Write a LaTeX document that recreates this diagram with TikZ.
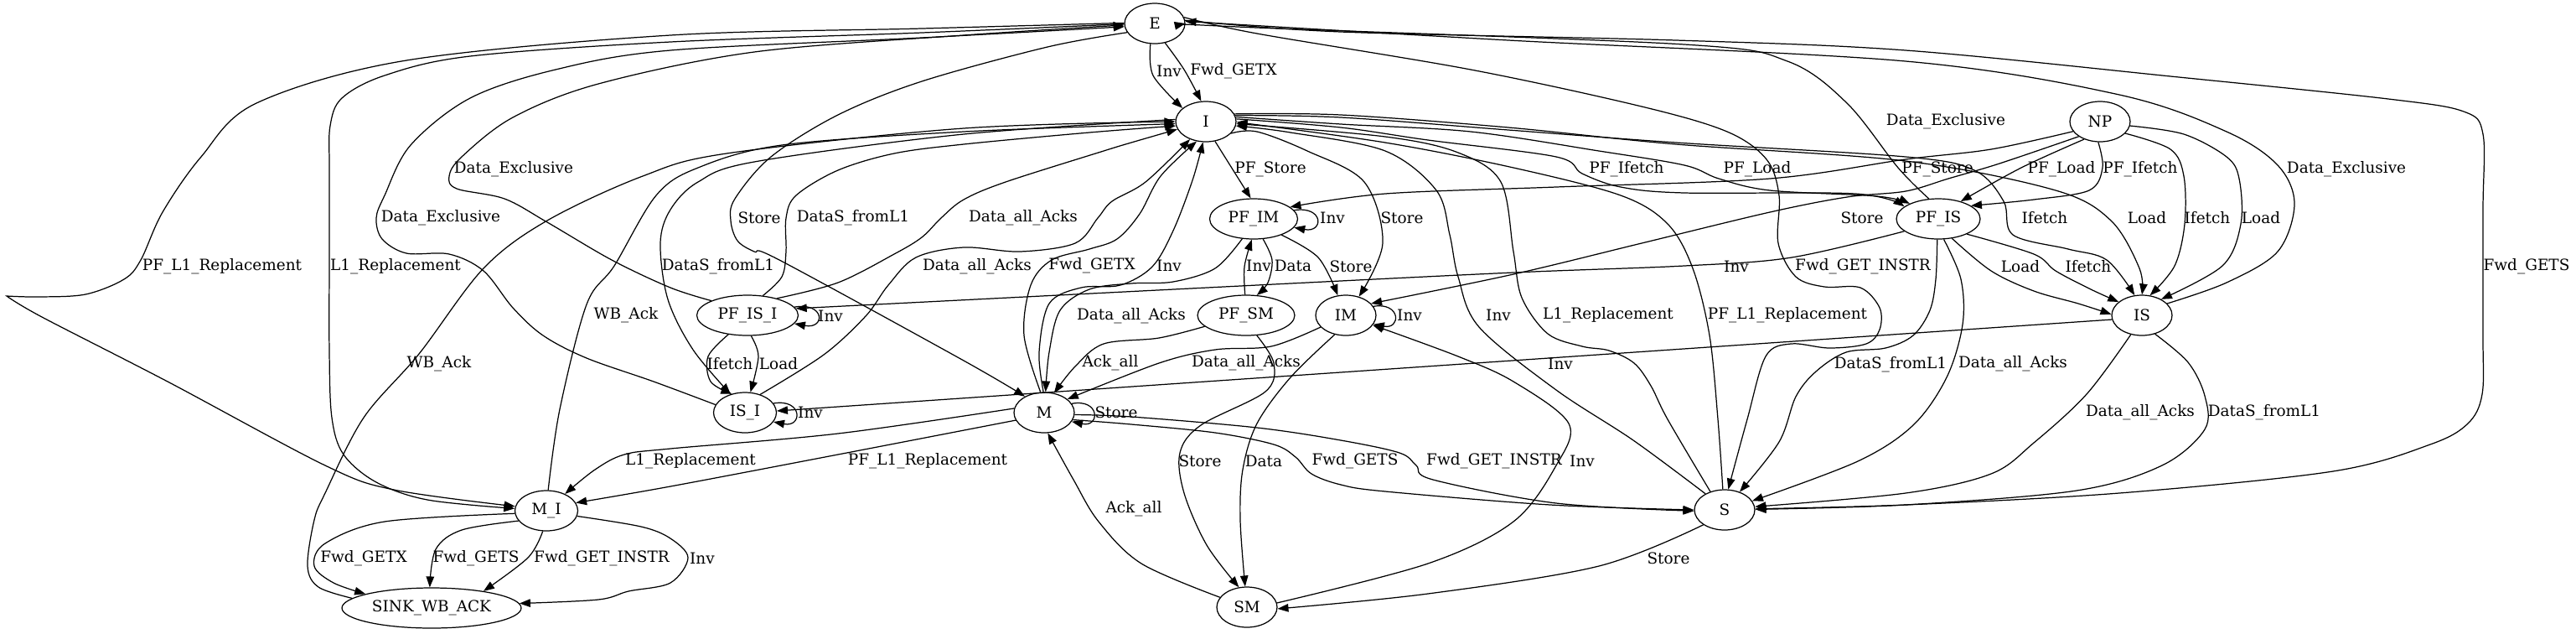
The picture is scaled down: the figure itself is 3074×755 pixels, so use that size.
\documentclass[tikz,border=0pt]{standalone}
\usepackage{fontspec}
\setmainfont{DejaVu Serif}
\usetikzlibrary{arrows.meta,shapes.geometric}
\newcommand\lblfont{\fontsize{10.5}{12}\selectfont}
\begin{document}
\begin{tikzpicture}[x=0.02cm,y=-0.02cm,
  st/.style={draw, ellipse, line width=0.7pt, minimum width=1.44cm, minimum height=0.96cm, inner sep=0pt, font=\lblfont},
  ar/.style={line width=0.7pt, -{Triangle[length=0.26cm,width=0.19cm]}},
  lab/.style={inner sep=0pt, font=\lblfont},
  sm/.style={smooth, tension=0.55}]
\useasboundingbox (0,0) rectangle (3074,755);
% nodes
\node[st] (E) at (1378,28) {E};
\node[st] (I) at (1439,145) {I};
\node[st] (NP) at (2506,145) {NP};
\node[st, minimum width=2.1cm] (PFIM) at (1496,261) {PF\_IM};
\node[st, minimum width=2.0cm] (PFIS) at (2313,261) {PF\_IS};
\node[st, minimum width=2.42cm] (PFISI) at (892,376) {PF\_IS\_I};
\node[st, minimum width=2.32cm] (PFSM) at (1487,376) {PF\_SM};
\node[st] (IM) at (1606,376) {IM};
\node[st] (IS) at (2556,376) {IS};
\node[st, minimum width=1.5cm] (ISI) at (889,492) {IS\_I};
\node[st] (M) at (1246,492) {M};
\node[st, minimum width=1.5cm] (MI) at (652,609) {M\_I};
\node[st] (S) at (2058,608) {S};
\node[st, minimum width=4.28cm] (SINK) at (515,725) {SINK\_WB\_ACK};
\node[st] (SM) at (1488,724) {SM};
% E -> I
\draw[ar] plot[sm] coordinates {(E.258) (1376,90) (I.150)};
\draw[ar] plot[sm] coordinates {(E.-62) (1413,83) (I.103)};
% E -> M_I
\draw[ar] plot[sm] coordinates {(E.179) (1100,34) (800,42) (485,72) (306,123) (240,187) (194,253) (168,310) (148,333) (102,351) (46,354) (8,353)} -- plot[sm] coordinates {(8,353) (50,378) (200,455) (388,555) (470,584) (MI.172)};
\draw[ar] plot[sm] coordinates {(E.181) (1100,39) (800,50) (561,67) (459,90) (408,117) (394,150) (393,200) (393,300) (393,420) (396,498) (410,542) (449,575) (510,596) (MI.176)};
% E -> M
\draw[ar] plot[sm] coordinates {(E.198) (1250,56) (1100,97) (1000,137) (920,187) (877,237) (872,263) (880,287) (900,300) (930,310) (1150,430) (M.140)};
% -> E Data_Exclusive
\draw[ar] plot[sm] coordinates {(PFISI.158) (800,343) (730,310) (653,265) (602,237) (545,225) (536,210) (551,187) (612,140) (714,100) (900,62) (1150,42) (E.183)};
\draw[ar] plot[sm] coordinates {(ISI.165) (780,455) (700,427) (648,400) (612,367) (577,323) (536,303) (485,302) (456,285) (449,260) (459,233) (490,173) (561,117) (663,83) (800,60) (1100,45) (E.186)};
\draw[ar] plot[sm] coordinates {(IS.25) (2657,337) (2718,300) (2738,243) (2718,197) (2657,157) (2529,113) (2274,73) (1800,48) (E.4)};
\draw[ar] plot[sm] coordinates {(PFIS.115) (2265,200) (2204,123) (2133,73) (2010,53) (1500,33) (E.0)};
% into I from left
\draw[ar] plot[sm] coordinates {(I.176) (1150,160) (900,193) (833,217) (800,250) (788,290) (797,357) (827,417) (ISI.128)};
\draw[ar] plot[sm] coordinates {(ISI.50) (983,423) (1033,377) (1060,340) (1093,307) (1150,295) (1217,300) (1283,290) (1310,260) (1327,240) (1367,217) (I.228)};
\draw[ar] plot[sm] coordinates {(PFISI.52) (933,330) (938,300) (938,260) (950,233) (1000,203) (1067,183) (1150,172) (1300,158) (I.188)};
\draw[ar] plot[sm] coordinates {(PFISI.30) (1000,337) (1067,303) (1100,283) (1123,260) (1150,238) (1200,217) (1317,180) (1350,170) (I.195)};
\draw[ar] plot[sm] coordinates {(MI.85) (668,488) (700,363) (733,317) (783,233) (833,200) (933,173) (1150,157) (I.184)};
\draw[ar] plot[sm] coordinates {(SINK.173) (380,700) (367,675) (375,620) (388,588) (434,498) (500,422) (577,320) (653,263) (767,210) (867,183) (1150,153) (I.180)};
% M -> I
\draw[ar] plot[sm] coordinates {(M.100) (1222,400) (1230,340) (1255,310) (1300,297) (1333,285) (1360,255) (1385,210) (I.245)};
\draw[ar] plot[sm] coordinates {(M.92) (1240,420) (1252,362) (1290,343) (1337,340) (1375,318) (1400,275) (1423,215) (I.262)};
% E -> S
\draw[ar] plot[sm] coordinates {(E.6) (1600,38) (2000,48) (2274,60) (2600,92) (2850,118) (2940,133) (2963,160) (2963,250) (2963,400) (2962,470) (2945,505) (2900,530) (2784,562) (2529,588) (2274,602) (S.2)};
\draw[ar] plot[sm] coordinates {(E.12) (1500,40) (1755,83) (1959,127) (2061,157) (2108,190) (2123,233) (2122,290) (2143,330) (2177,342) (2220,343) (2243,367) (2243,393) (2227,410) (2183,415) (2137,410) (2107,425) (2085,500) (S.80)};
% from I to the right
\draw[ar] (I.-65) -- (PFIM.98);
\draw[ar] plot[sm] coordinates {(I.-25) (1500,157) (1560,180) (1628,217) (1650,290) (IM.55)};
\draw[ar] plot[sm] coordinates {(I.5) (1600,152) (1704,167) (1857,187) (1888,207) (1934,223) (2010,230) (2214,231) (PFIS.160)};
\draw[ar] plot[sm] coordinates {(I.9) (1600,148) (1755,157) (1908,180) (2010,197) (2051,213) (2112,227) (2240,234) (PFIS.152)};
\draw[ar] plot[sm] coordinates {(I.12) (1600,140) (1800,155) (2000,170) (2274,187) (2356,203) (2391,240) (2402,280) (2468,297) (2514,310) (IS.110)};
\draw[ar] plot[sm] coordinates {(I.15) (1600,137) (1800,152) (2000,172) (2274,192) (2453,227) (2519,263) (2553,320) (IS.90)};
% S -> I
\draw[ar] plot[sm] coordinates {(S.140) (1949,525) (1857,465) (1765,390) (1740,330) (1730,280) (1714,227) (1653,180) (1540,158) (I.-8)};
\draw[ar] plot[sm] coordinates {(S.128) (1990,500) (1970,460) (1950,433) (1920,418) (1888,413) (1847,398) (1816,355) (1806,300) (1791,217) (1740,182) (1653,163) (I.-4)};
\draw[ar] plot[sm] coordinates {(S.95) (2050,500) (2040,400) (2020,320) (1990,267) (1934,233) (1806,200) (1653,170) (I.-1)};
% NP
\draw[ar] plot[sm] coordinates {(NP.200) (2376,178) (2274,190) (2112,213) (1857,223) (1653,231) (PFIM.18)};
\draw[ar] plot[sm] coordinates {(NP.215) (2386,195) (2325,213) (2274,228) (2204,235) (2112,253) (1959,290) (1806,327) (IM.25)};
\draw[ar] plot[sm] coordinates {(NP.228) (2412,200) (PFIS.38)};
\draw[ar] plot[sm] coordinates {(NP.265) (2509,200) (2493,227) (2427,238) (PFIS.22)};
\draw[ar] plot[sm] coordinates {(NP.-25) (2590,178) (2606,210) (2607,267) (2595,317) (IS.68)};
\draw[ar] plot[sm] coordinates {(NP.-8) (2606,160) (2657,187) (2672,213) (2674,267) (2652,317) (IS.40)};
% PF_IS
\draw[ar] plot[sm] coordinates {(PFIS.-55) (2376,323) (2427,347) (2480,362) (IS.178)};
\draw[ar] plot[sm] coordinates {(PFIS.-28) (2427,303) (2453,323) (2495,345) (IS.150)};
\draw[ar] plot[sm] coordinates {(PFIS.-93) (2310,333) (2303,370) (2283,400) (2250,415) (2203,420) (2167,443) (2143,473) (2123,527) (S.50)};
\draw[ar] plot[sm] coordinates {(PFIS.-75) (2340,333) (2342,387) (2323,450) (2283,507) (2217,550) (S.18)};
\draw[ar] plot[sm] coordinates {(PFIS.200) (2138,307) (2010,317) (1806,325) (1500,340) (PFISI.8)};
% IS
\draw[ar] plot[sm] coordinates {(IS.240) (2490,470) (2427,528) (2376,565) (2274,588) (S.6)};
\draw[ar] plot[sm] coordinates {(IS.-55) (2611,432) (2631,472) (2631,512) (2580,555) (2478,585) (2274,602) (S.1)};
\draw[ar] (IS.188) -- (ISI.3);
% PF_IS_I -> IS_I
\draw[ar] plot[sm] coordinates {(PFISI.225) (845,425) (848,455) (ISI.125)};
\draw[ar] plot[sm] coordinates {(PFISI.-80) (905,425) (ISI.75)};
% self loops
\draw[ar] (PFISI.10) .. controls (985,360) and (985,393) .. (PFISI.-10);
\draw[ar] (ISI.18) .. controls (958,475) and (958,510) .. (ISI.-18);
\draw[ar] (M.18) .. controls (1313,475) and (1313,510) .. (M.-18);
\draw[ar] (PFIM.12) .. controls (1580,245) and (1580,278) .. (PFIM.-12);
\draw[ar] (IM.18) .. controls (1672,360) and (1672,393) .. (IM.-18);
% PF_IM, PF_SM, IM, SM
\draw[ar] plot[sm] coordinates {(PFIM.-65) (1518,310) (1513,337) (PFSM.62)};
\draw[ar] plot[sm] coordinates {(PFSM.93) (1485,318) (PFIM.-95)};
\draw[ar] plot[sm] coordinates {(PFIM.-30) (1573,307) (IM.112)};
\draw[ar] plot[sm] coordinates {(PFIM.-120) (1450,320) (1400,336) (1350,338) (1300,345) (1265,370) (1252,420) (M.86)};
\draw[ar] plot[sm] coordinates {(PFSM.195) (1383,403) (1317,410) (1283,437) (M.63)};
\draw[ar] plot[sm] coordinates {(IM.205) (1517,413) (1450,417) (1383,433) (M.30)};
\draw[ar] plot[sm] coordinates {(PFSM.-62) (1520,433) (1510,467) (1433,507) (1408,540) (1413,588) (1440,650) (SM.112)};
\draw[ar] plot[sm] coordinates {(IM.240) (1540,450) (1500,505) (1483,560) (1480,620) (SM.95)};
\draw[ar] plot[sm] coordinates {(SM.160) (1362,672) (1311,622) (1281,572) (M.-80)};
\draw[ar] plot[sm] coordinates {(SM.8) (1704,672) (1806,622) (1857,555) (1872,505) (1806,455) (1740,425) (IM.-20)};
\draw[ar] plot[sm] coordinates {(S.215) (1908,675) (1704,708) (SM.-3)};
% M -> S
\draw[ar] plot[sm] coordinates {(M.-14) (1350,506) (1450,516) (1520,530) (1546,545) (1565,565) (1600,578) (1653,586) (1850,602) (S.180)};
\draw[ar] plot[sm] coordinates {(M.-4) (1350,497) (1500,510) (1600,525) (1670,540) (1690,555) (1710,572) (1857,600) (S.182)};
% M -> M_I
\draw[ar] plot[sm] coordinates {(M.172) (1000,517) (800,535) (745,542) (710,560) (MI.42)};
\draw[ar] plot[sm] coordinates {(M.195) (1000,542) (800,580) (MI.15)};
% M_I -> SINK
\draw[ar] plot[sm] coordinates {(MI.185) (459,622) (388,648) (375,675) (398,695) (SINK.168)};
\draw[ar] plot[sm] coordinates {(MI.200) (551,632) (520,655) (SINK.95)};
\draw[ar] plot[sm] coordinates {(MI.-100) (630,665) (SINK.18)};
\draw[ar] plot[sm] coordinates {(MI.-10) (765,628) (800,642) (821,665) (800,695) (750,705) (714,715) (SINK.3)};
% labels
\node[lab] (l1) at (1395,85) {Inv};
\node[lab] (l2) at (1472,85) {Fwd\_GETX};
\node[lab] (l3) at (265,318) {PF\_L1\_Replacement};
\node[lab] (l4) at (472,318) {L1\_Replacement};
\node[lab] (l5) at (613,202) {Data\_Exclusive};
\node[lab] (l6) at (526,260) {Data\_Exclusive};
\node[lab] (l7) at (906,260) {Store};
\node[lab] (l8) at (1018,260) {DataS\_fromL1};
\node[lab] (l9) at (1221,260) {Data\_all\_Acks};
\node[lab] (l10) at (857,318) {DataS\_fromL1};
\node[lab] (l11) at (1166,318) {Data\_all\_Acks};
\node[lab] (l12) at (1303,317) {Fwd\_GETX};
\node[lab] (l13) at (1395,317) {Inv};
\node[lab] (l14) at (747,376) {WB\_Ack};
\node[lab] (l15) at (524,434) {WB\_Ack};
\node[lab] (l16) at (1516,202) {PF\_Store};
\node[lab] (l17) at (1502,317) {Inv};
\node[lab] (l18) at (1543,317) {Data};
\node[lab] (l19) at (1612,318) {Store};
\node[lab] (l20) at (1590,260) {Inv};
\node[lab] (l21) at (1673,260) {Store};
\node[lab] (l22) at (1941,202) {PF\_Ifetch};
\node[lab] (l23) at (2097,202) {PF\_Load};
\node[lab] (l24) at (2322,145) {Data\_Exclusive};
\node[lab] (l25) at (2312,202) {PF\_Store};
\node[lab] (l26) at (2460,202) {PF\_Load};
\node[lab] (l27) at (2554,202) {PF\_Ifetch};
\node[lab] (l28) at (2800,202) {Data\_Exclusive};
\node[lab] (l29) at (2222,260) {Store};
\node[lab] (l30) at (2440,260) {Ifetch};
\node[lab] (l31) at (2562,260) {Load};
\node[lab] (l32) at (2634,260) {Ifetch};
\node[lab] (l33) at (2698,260) {Load};
\node[lab] (l34) at (2072,318) {Inv};
\node[lab] (l35) at (2223,318) {Fwd\_GET\_INSTR};
\node[lab] (l36) at (2411,318) {Load};
\node[lab] (l37) at (2492,318) {Ifetch};
\node[lab] (l38) at (3015,318) {Fwd\_GETS};
\node[lab] (l39) at (991,377) {Inv};
\node[lab] (l40) at (1350,377) {Data\_all\_Acks};
\node[lab] (l41) at (1682,376) {Inv};
\node[lab] (l42) at (1788,376) {Inv};
\node[lab] (l43) at (1919,376) {L1\_Replacement};
\node[lab] (l44) at (2133,376) {PF\_L1\_Replacement};
\node[lab] (l45) at (871,434) {Ifetch};
\node[lab] (l46) at (929,434) {Load};
\node[lab] (l47) at (1325,433) {Ack\_all};
\node[lab] (l48) at (1487,433) {Data\_all\_Acks};
\node[lab] (l49) at (1862,434) {Inv};
\node[lab] (l50) at (2256,435) {DataS\_fromL1};
\node[lab] (l51) at (2402,434) {Data\_all\_Acks};
\node[lab] (l52) at (967,492) {Inv};
\node[lab] (l53) at (1332,492) {Store};
\node[lab] (l54) at (2554,492) {Data\_all\_Acks};
\node[lab] (l55) at (2702,492) {DataS\_fromL1};
\node[lab] (l56) at (824,550) {L1\_Replacement};
\node[lab] (l57) at (1107,550) {PF\_L1\_Replacement};
\node[lab] (l58) at (1432,550) {Store};
\node[lab] (l59) at (1508,550) {Data};
\node[lab] (l60) at (1617,550) {Fwd\_GETS};
\node[lab] (l61) at (1783,550) {Fwd\_GET\_INSTR};
\node[lab] (l62) at (1888,550) {Inv};
\node[lab] (l63) at (1353,607) {Ack\_all};
\node[lab] (l64) at (434,666) {Fwd\_GETX};
\node[lab] (l65) at (568,666) {Fwd\_GETS};
\node[lab] (l66) at (718,666) {Fwd\_GET\_INSTR};
\node[lab] (l67) at (838,666) {Inv};
\node[lab] (l68) at (1991,666) {Store};
\end{tikzpicture}
\end{document}
